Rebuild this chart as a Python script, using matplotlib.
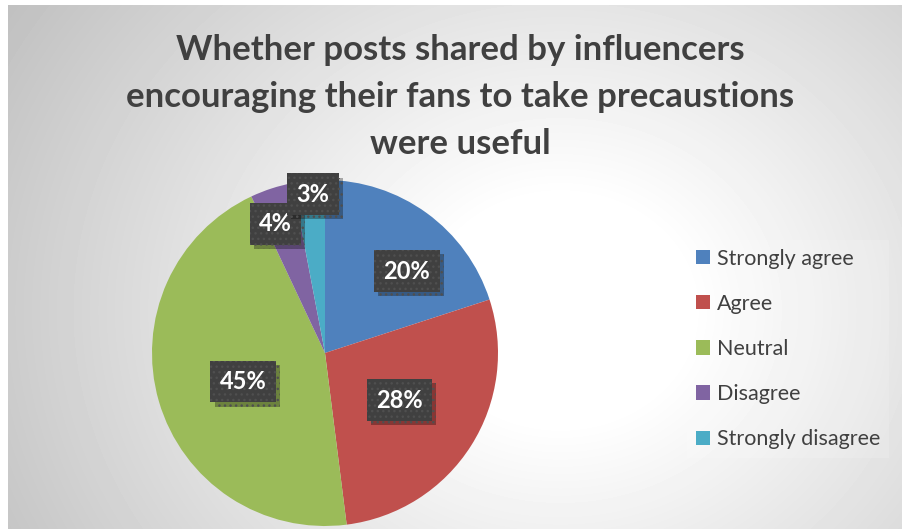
import numpy as np
import matplotlib
matplotlib.use("Agg")
import matplotlib.pyplot as plt
import matplotlib.patheffects as pe

plt.rcParams['font.family'] = ['Lato', 'DejaVu Sans']

title = "Whether posts shared by influencers\nencouraging their fans to take precaustions\nwere useful"
categories = ['Strongly agree', 'Agree', 'Neutral', 'Disagree', 'Strongly disagree']
values = [20, 28, 45, 4, 3]
colors = ['#4F81BD', '#C0504D', '#9BBB59', '#8064A2', '#4BACC6']

# where each percentage box sits: fraction of radius and angle nudge (deg)
label_dist = [0.67, 0.51, 0.50, 0.80, 0.92]
label_shift = [-9, 0, 3, 3, -1]

W, H = 902, 529
fig = plt.figure(figsize=(W / 100, H / 100), dpi=100)
fig.patch.set_facecolor('white')

# radial grey-to-white background of the chart area
bg = fig.add_axes([8 / W, 0, (W - 8) / W, (H - 5) / H])
yy, xx = np.mgrid[5:H, 8:W]
d = np.hypot((xx - 560) * 1.0, (yy - 310) * 1.15)
shade = np.clip(255 - 0.12 * np.clip(d - 130, 0, None), 188, 255) / 255
bg.imshow(shade, cmap='gray', vmin=0, vmax=1, aspect='auto', interpolation='bilinear')
bg.axis('off')

# pie
cx, cy, r = 325, 353, 173
ax = fig.add_axes([(cx - r) / W, (H - cy - r) / H, 2 * r / W, 2 * r / H])
wedges, _ = ax.pie(values, colors=colors, startangle=90, counterclock=False,
                   radius=1, wedgeprops=dict(linewidth=0))
ax.set_xlim(-1, 1)
ax.set_ylim(-1, 1)
ax.set_aspect('auto')
ax.axis('off')

total = sum(values)
for w, v, dist, shift in zip(wedges, values, label_dist, label_shift):
    ang = np.deg2rad((w.theta1 + w.theta2) / 2 + shift)
    t = ax.text(dist * np.cos(ang), dist * np.sin(ang), f"{round(100 * v / total)}%",
                ha='center', va='center', color='white', fontsize=17, fontweight='bold',
                bbox=dict(boxstyle='square,pad=0.4', facecolor='#404040',
                          edgecolor='#4f4f4f', linewidth=0, hatch='...'))
    t.get_bbox_patch().set_path_effects([
        pe.SimplePatchShadow(offset=(3, -3), shadow_rgbFace='black', alpha=0.3),
        pe.Normal()])

fig.text(460 / W, 1 - 34 / H, title, ha='center', va='top', fontsize=25,
         fontweight='bold', color='#404040', linespacing=1.58)

leg = fig.legend(wedges, categories, loc='upper left',
                 bbox_to_anchor=(687 / W, 1 - 240 / H), borderaxespad=0,
                 frameon=True, facecolor='white', framealpha=0.15,
                 edgecolor='none', fancybox=False,
                 fontsize=15.5, labelcolor='#404040',
                 handlelength=0.65, handleheight=0.65, handletextpad=0.35,
                 labelspacing=1.17, borderpad=0.4)

fig.savefig('out.png', dpi=100)
